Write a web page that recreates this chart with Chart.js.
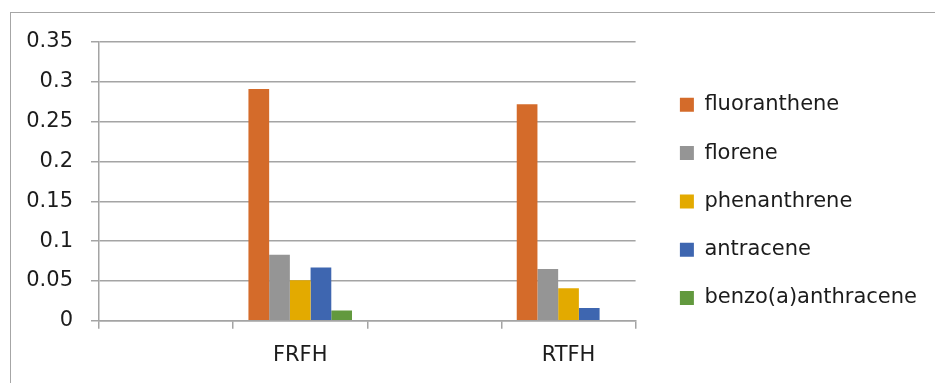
<!DOCTYPE html>
<html>
<head>
<meta charset="utf-8">
<script src="https://cdn.jsdelivr.net/npm/chart.js@4.4.4/dist/chart.umd.min.js"></script>
<style>
  html, body { margin: 0; padding: 0; background: #fff; overflow: hidden; }
  #wrap { position: relative; width: 935px; height: 383px; overflow: hidden; }
  #frame { position: absolute; left: 10px; top: 12px; width: 980px; height: 420px;
           border: 1px solid #a6a6a6; box-sizing: border-box; }
  #chart { position: absolute; left: 0; top: 0; }
</style>
</head>
<body>
<div id="wrap">
  <div id="frame"></div>
  <canvas id="chart" width="935" height="383"></canvas>
</div>
<script>
// categories (the empty ones are the blank slots Excel left in)
const categories = ['', 'FRFH', '', 'RTFH'];
const seriesNames = ['fluoranthene', 'florene', 'phenanthrene', 'antracene', 'benzo(a)anthracene'];

const fluoranthene    = [null, 0.291, null, 0.272];
const florene         = [null, 0.083, null, 0.065];
const phenanthrene    = [null, 0.051, null, 0.041];
const antracene       = [null, 0.067, null, 0.016];
const benzoAnthracene = [null, 0.013, null, 0];

const yTickLabels = ['0', '0.05', '0.1', '0.15', '0.2', '0.25', '0.3', '0.35'];

const seriesValues = [fluoranthene, florene, phenanthrene, antracene, benzoAnthracene];
const seriesColors = ['#d46b2a', '#959595', '#e3aa00', '#3e66b0', '#62993e'];

const gridColor = '#a4a4a4';
const textColor = '#1c1c1c';
const font = { family: 'DejaVu Sans', size: 21 };

const datasets = seriesNames.map((name, i) => ({
  label: name,
  data: seriesValues[i],
  backgroundColor: seriesColors[i],
  borderWidth: 0,
  categoryPercentage: 0.772,
  barPercentage: 1
}));

new Chart(document.getElementById('chart'), {
  type: 'bar',
  data: { labels: categories, datasets },
  options: {
    responsive: false,
    animation: false,
    layout: { padding: { left: 0, top: 42, right: 8, bottom: 1 } },
    plugins: {
      tooltip: { enabled: false },
      legend: {
        position: 'right',
        align: 'start',
        maxWidth: 320,
        // blank title just pushes the items down to where they sit in the original
        title: { display: true, text: '', font: { size: 10 }, padding: { top: 13, bottom: 0 } },
        labels: {
          font,
          color: textColor,
          boxWidth: 14,
          boxHeight: 14,
          padding: 27.3
        }
      }
    },
    scales: {
      x: {
        grid: { display: true, drawOnChartArea: false, drawTicks: true, tickLength: 8, color: gridColor, lineWidth: 1.5, offset: true },
        border: { display: true, color: gridColor, width: 1.5 },
        ticks: { font, color: textColor, padding: 14, maxRotation: 0, autoSkip: false }
      },
      y: {
        min: 0,
        max: 0.35,
        grid: { color: gridColor, lineWidth: 1.5, tickLength: 8 },
        border: { display: true, color: gridColor, width: 1.5 },
        ticks: {
          stepSize: 0.05,
          font,
          color: textColor,
          padding: 18,
          callback: (value) => yTickLabels[Math.round(value / 0.05)]
        },
        afterFit: (scale) => { scale.width = 99; }
      },
      // empty right axis, only to leave a gap before the legend
      gap: {
        type: 'linear',
        axis: 'y',
        position: 'right',
        display: true,
        grid: { display: false },
        border: { display: false },
        ticks: { display: false },
        afterFit: (scale) => { scale.width = 17; }
      }
    }
  }
});
</script>
</body>
</html>
